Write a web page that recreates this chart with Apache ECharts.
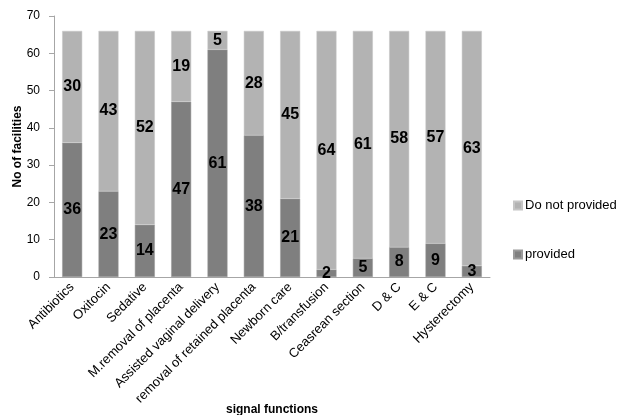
<!DOCTYPE html>
<html>
<head>
<meta charset="utf-8">
<script src="https://cdn.jsdelivr.net/npm/echarts@6/dist/echarts.min.js"></script>
<style>
  html, body { margin: 0; padding: 0; background: #fff; }
  #chart { width: 620px; height: 415px; }
</style>
</head>
<body>
<div id="chart"></div>
<script>
// Signal functions offered by health facilities
const categories = [
  'Antibiotics', 'Oxitocin', 'Sedative', 'M.removal of placenta',
  'Assisted vaginal delivery', 'removal of retained placenta', 'Newborn care',
  'B/transfusion', 'Ceasrean section', 'D & C', 'E & C', 'Hysterectomy'
];
const provided    = [36, 23, 14, 47, 61, 38, 21, 2, 5, 8, 9, 3];
const notProvided = [30, 43, 52, 19, 5, 28, 45, 64, 61, 58, 57, 63];
const yTicks = { min: 0, max: 70, interval: 10 };

const FONT = '"Liberation Sans", Arial, sans-serif';

const chart = echarts.init(document.getElementById('chart'), null, { renderer: 'canvas' });

const labelStyle = {
  show: true,
  position: 'inside',
  color: '#000',
  fontFamily: FONT,
  fontWeight: 'bold',
  fontSize: 16
};

chart.setOption({
  animation: false,
  textStyle: { fontFamily: FONT },
  grid: { left: 54, right: 130, top: 16, bottom: 138, containLabel: false, outerBoundsMode: 'none' },
  legend: {
    orient: 'vertical',
    left: 508,
    top: 194,
    itemWidth: 8,
    itemHeight: 8,
    itemGap: 36,
    icon: 'rect',
    textStyle: { fontFamily: FONT, fontSize: 13, color: '#000', padding: [0, 0, 0, -2] },
    data: ['Do not provided', 'provided']
  },
  xAxis: {
    type: 'category',
    data: categories,
    name: 'signal functions',
    nameLocation: 'middle',
    nameGap: 127,
    nameMoveOverlap: false,
    nameTextStyle: { fontFamily: FONT, fontWeight: 'bold', fontSize: 12, color: '#000' },
    axisLine: { lineStyle: { color: '#a6a6a6', width: 1 } },
    axisTick: { show: false },
    axisLabel: {
      rotate: 45,
      interval: 0,
      margin: 8,
      fontSize: 13,
      color: '#000',
      fontFamily: FONT
    }
  },
  yAxis: {
    type: 'value',
    min: yTicks.min,
    max: yTicks.max,
    interval: yTicks.interval,
    name: 'No of facilities',
    nameLocation: 'middle',
    nameGap: 30,
    nameMoveOverlap: false,
    nameTextStyle: { fontFamily: FONT, fontWeight: 'bold', fontSize: 12, color: '#000' },
    axisLine: { show: true, lineStyle: { color: '#a6a6a6', width: 1 } },
    axisTick: { show: true, length: 5, lineStyle: { color: '#a6a6a6' } },
    splitLine: { show: false },
    axisLabel: { fontSize: 12, color: '#000', margin: 14, fontFamily: FONT }
  },
  series: [
    {
      name: 'provided',
      type: 'bar',
      stack: 'total',
      data: provided,
      barWidth: '55%',
      itemStyle: { color: '#7f7f7f', borderColor: '#9a9a9a', borderWidth: 0.5 },
      label: labelStyle
    },
    {
      name: 'Do not provided',
      type: 'bar',
      stack: 'total',
      data: notProvided,
      barWidth: '55%',
      itemStyle: { color: '#b3b3b3', borderColor: '#c6c6c6', borderWidth: 0.5 },
      label: labelStyle
    }
  ]
});
</script>
</body>
</html>
